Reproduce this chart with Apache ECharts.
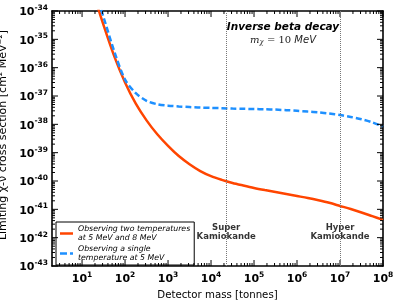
<!DOCTYPE html>
<html>
<head>
<meta charset="utf-8">
<script src="https://cdn.jsdelivr.net/npm/echarts@6/dist/echarts.min.js"></script>
<style>html,body{margin:0;padding:0;background:#fff}#c{width:399px;height:300px}</style>
</head>
<body>
<div id="c"></div>
<script>
// log10(detector mass in tonnes)
var massExp = [1.25, 1.50, 1.75, 2.00, 2.25, 2.50, 2.75, 3.00, 3.25, 3.50, 3.75, 4.00, 4.25, 4.50, 4.75, 5.00, 5.25, 5.50, 5.75, 6.00, 6.25, 6.50, 6.75, 7.00, 7.25, 7.50, 7.75, 8.00];
// log10(limiting cross section, cm^2 MeV^-2): two temperatures (5 and 8 MeV)
var redSigmaExp = [-33.3, -34.5, -35.6, -36.52, -37.27, -37.86, -38.35, -38.76, -39.12, -39.41, -39.65, -39.83, -39.96, -40.07, -40.16, -40.245, -40.32, -40.39, -40.46, -40.53, -40.6, -40.68, -40.77, -40.88, -40.99, -41.11, -41.24, -41.37];
// single temperature (5 MeV)
var blueSigmaExp = [-33.05, -34.22, -35.43, -36.42, -36.9, -37.17, -37.29, -37.34, -37.37, -37.39, -37.41, -37.42, -37.43, -37.445, -37.45, -37.46, -37.47, -37.48, -37.5, -37.52, -37.55, -37.58, -37.62, -37.67, -37.74, -37.82, -37.93, -38.08];
var seriesNames = ['Observing two temperatures\nat 5 MeV and 8 MeV', 'Observing a single\ntemperature at 5 MeV'];
var detectorNames = ['Super\nKamiokande', 'Hyper\nKamiokande'];
var detectorMassExp = [Math.log10(22500), 7];
var xTickExp = [1, 2, 3, 4, 5, 6, 7, 8];
var yTickExp = [-43, -42, -41, -40, -39, -38, -37, -36, -35, -34];
var xMin = Math.log10(2), xMax = 8, yMin = -43, yMax = -34;

function zip(a, b) { return a.map(function (v, i) { return [v, b[i]]; }); }
function minorTicks(lo, hi) {
  var out = [];
  for (var n = Math.floor(lo); n < Math.ceil(hi); n++) {
    for (var k = 2; k <= 9; k++) {
      var v = n + Math.log10(k);
      if (v > lo + 1e-9 && v < hi - 1e-9) out.push(v);
    }
  }
  return out;
}
// tick items: [x, y, length, kind(0 = x tick, 1 = y tick)]
var tickData = []
  .concat(xTickExp.map(function (v) { return [v, yMin, 6, 0]; }))
  .concat(minorTicks(xMin, xMax).map(function (v) { return [v, yMin, 3, 0]; }))
  .concat(yTickExp.map(function (v) { return [xMin, v, 6, 1]; }))
  .concat(minorTicks(yMin, yMax).map(function (v) { return [xMin, v, 3, 1]; }));

function renderTick(params, api) {
  var kind = api.value(3), len = api.value(2), a, b, st = { stroke: '#000', lineWidth: 1 };
  if (kind === 0) {
    a = api.coord([api.value(0), yMin]); b = api.coord([api.value(0), yMax]);
    return { type: 'group', children: [
      { type: 'line', shape: { x1: a[0], y1: a[1], x2: a[0], y2: a[1] - len }, style: st },
      { type: 'line', shape: { x1: b[0], y1: b[1], x2: b[0], y2: b[1] + len }, style: st }
    ] };
  }
  a = api.coord([xMin, api.value(1)]); b = api.coord([xMax, api.value(1)]);
  return { type: 'group', children: [
    { type: 'line', shape: { x1: a[0], y1: a[1], x2: a[0] + len, y2: a[1] }, style: st },
    { type: 'line', shape: { x1: b[0], y1: b[1], x2: b[0] - len, y2: b[1] }, style: st }
  ] };
}

var font = 'DejaVu Sans';
var rich = {
  b: { fontSize: 11, fontWeight: 'bold', fontFamily: font, color: '#000', verticalAlign: 'bottom', lineHeight: 14 },
  s: { fontSize: 7.5, fontWeight: 'bold', fontFamily: font, color: '#000', verticalAlign: 'top', lineHeight: 9 }
};
function powLabel(v) { return '{b|10}{s|' + Math.round(v) + '}'; }
var lineW = 1.6;
function ax(pos, lo, hi, ticks, labels, margin, extra) {
  var a = {
    type: 'value', position: pos, min: lo, max: hi, gridIndex: 0,
    axisLine: { show: true, onZero: false, lineStyle: { color: '#000', width: lineW } },
    axisTick: { show: false },
    axisLabel: { show: labels, customValues: ticks, formatter: powLabel, rich: rich, margin: margin },
    splitLine: { show: false }
  };
  return Object.assign(a, extra || {});
}

var chart = echarts.init(document.getElementById('c'), null, { renderer: 'canvas' });
chart.setOption({
  animation: false,
  backgroundColor: '#fff',
  grid: { left: 52, right: 16, top: 11, bottom: 34, containLabel: false, outerBoundsMode: 'none' },
  xAxis: [
    ax('bottom', xMin, xMax, xTickExp, true, 5, { name: 'Detector mass [tonnes]', nameLocation: 'middle', nameGap: 10,
      nameTextStyle: { fontSize: 10.2, fontFamily: font, color: '#000', verticalAlign: 'top' } }),
    ax('top', xMin, xMax, xTickExp, false, 5)
  ],
  yAxis: [
    ax('left', yMin, yMax, yTickExp, true, 4, { name: 'Limiting χ-ν cross section [cm² MeV⁻²]', nameLocation: 'middle', nameGap: 35,
      nameTextStyle: { fontSize: 11, fontFamily: font, color: '#000', padding: [0, 0, 0, 7] } }),
    ax('right', yMin, yMax, yTickExp, false, 4)
  ],
  legend: {
    left: 56, top: 222, orient: 'vertical',
    backgroundColor: '#fff', borderColor: '#000', borderWidth: 1, borderRadius: 0,
    padding: [3, 4, 3, 4], itemWidth: 13, itemHeight: 2.5, itemGap: 3,
    data: [
      { name: seriesNames[0], icon: 'rect' },
      { name: seriesNames[1], icon: 'path://M0,0h7v2.5h-7zM10,0h3v2.5h-3z' }
    ],
    textStyle: { fontStyle: 'italic', fontSize: 7.8, lineHeight: 8.5, fontFamily: font, color: '#000' }
  },
  series: [
    {
      name: seriesNames[0], type: 'line', data: zip(massExp, redSigmaExp),
      symbol: 'none', smooth: 0.3, clip: true, z: 3,
      lineStyle: { color: '#ff4500', width: 2.5 }, itemStyle: { color: '#ff4500' },
      markLine: {
        silent: true, symbol: 'none', label: { show: false },
        lineStyle: { color: '#777', type: 'dotted', width: 1 },
        data: detectorMassExp.map(function (v) { return { xAxis: v }; })
      }
    },
    {
      name: seriesNames[1], type: 'line', data: zip(massExp, blueSigmaExp),
      symbol: 'none', smooth: 0.3, clip: true, z: 3,
      lineStyle: { color: '#1e90ff', width: 2.5, type: [6, 3] }, itemStyle: { color: '#1e90ff' }
    },
    {
      type: 'scatter', symbolSize: 0, silent: true,
      data: detectorMassExp.map(function (v, i) { return { value: [v, -41.81], name: detectorNames[i] }; }),
      label: { show: true, position: 'inside', formatter: function (p) { return p.name; },
        fontSize: 8.5, fontWeight: 'bold', fontFamily: font, color: '#000', lineHeight: 9, align: 'center' }
    },
    {
      type: 'custom', silent: true, clip: false, z: 4,
      data: tickData, renderItem: renderTick
    }
  ],
  graphic: [
    { type: 'text', position: [283, 27], style: { text: 'Inverse beta decay', x: 0, y: 0, align: 'center', verticalAlign: 'middle',
      font: 'italic bold 10.5px "DejaVu Sans"', fill: '#000' } },
    { type: 'text', position: [283, 40], style: { text: '{m|m}{c|χ}{t| = 10 }{u|MeV}', align: 'center', verticalAlign: 'middle',
      rich: {
        m: { fontFamily: 'DejaVu Serif', fontStyle: 'italic', fontSize: 10, fill: '#222' },
        c: { fontFamily: 'DejaVu Serif', fontStyle: 'italic', fontSize: 7, fill: '#222', verticalAlign: 'bottom', padding: [4, 0, 0, 0] },
        t: { fontFamily: 'DejaVu Serif', fontSize: 10, fill: '#222' },
        u: { fontFamily: font, fontStyle: 'italic', fontSize: 10, fill: '#222' }
      } } }
  ]
});
</script>
</body>
</html>
